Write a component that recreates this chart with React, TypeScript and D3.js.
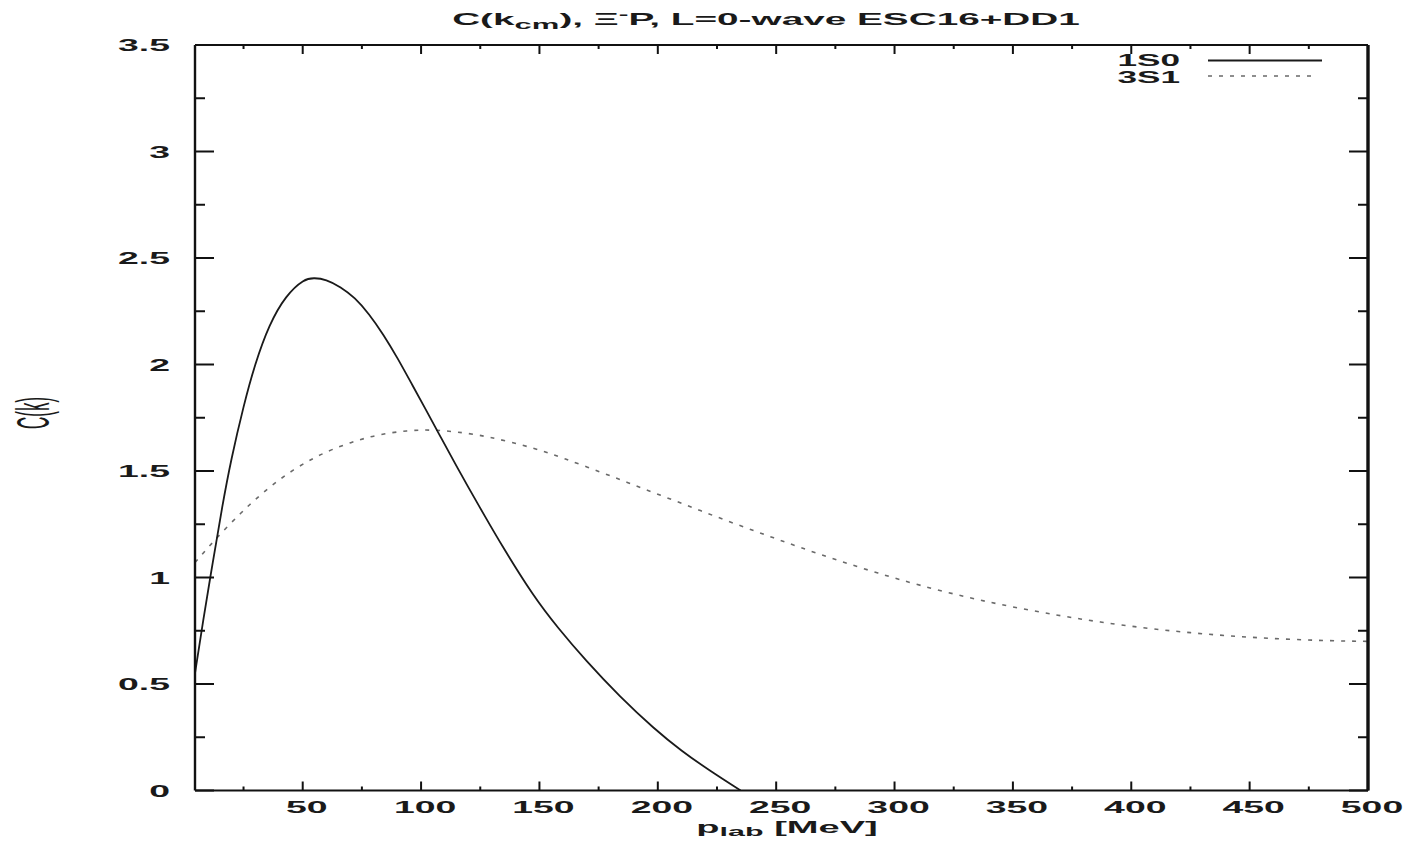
import React from "react";
import * as d3 from "d3";

// Correlation function C(k) versus p_lab for the two L=0 partial waves
const pLab1S0 = [4.5, 8, 12, 16, 20, 25, 30, 36, 43, 50, 55, 60, 66, 72, 78, 84, 90, 96, 102, 108, 114, 120, 127, 135, 147, 158, 170, 184, 198, 210, 222, 235];
const c1S0 = [0.55, 0.8, 1.07, 1.33, 1.56, 1.8, 2.0, 2.18, 2.315, 2.39, 2.405, 2.395, 2.362, 2.31, 2.235, 2.14, 2.03, 1.91, 1.788, 1.665, 1.543, 1.423, 1.287, 1.136, 0.926, 0.763, 0.607, 0.443, 0.297, 0.188, 0.094, 0.0];

const pLab3S1 = [4.5, 10, 16, 23.5, 30, 37.6, 46, 54.5, 63, 72.8, 83, 93.9, 104, 115, 129, 147, 161, 176, 190, 204, 218, 232, 246, 260, 276, 293, 311, 331, 350, 369, 387, 406, 425, 444, 463, 482, 500];
const c3S1 = [1.07, 1.14, 1.213, 1.298, 1.366, 1.437, 1.504, 1.559, 1.603, 1.642, 1.671, 1.688, 1.692, 1.683, 1.658, 1.608, 1.556, 1.494, 1.434, 1.374, 1.314, 1.255, 1.198, 1.142, 1.081, 1.021, 0.963, 0.907, 0.862, 0.823, 0.791, 0.763, 0.741, 0.724, 0.712, 0.704, 0.7];

const seriesNames = ["1S0", "3S1"];

const xMajorTicks = [50, 100, 150, 200, 250, 300, 350, 400, 450, 500];
const xMinorTicks = [25, 75, 125, 175, 225, 275, 325, 375, 425, 475];
const xTickLabels = ["50", "100", "150", "200", "250", "300", "350", "400", "450", "500"];
const yMajorTicks = [0, 0.5, 1, 1.5, 2, 2.5, 3, 3.5];
const yMinorTicks = [0.25, 0.75, 1.25, 1.75, 2.25, 2.75, 3.25];
const yTickLabels = ["0", "0.5", "1", "1.5", "2", "2.5", "3", "3.5"];

const W = 1409;
const H = 841;
const left = 195;
const right = 1368;
const top = 45;
const bottom = 790.5;

const FONT = "'Liberation Sans', Arial, Helvetica, sans-serif";
const FS = 17;
const SX = 2.2; // horizontal stretch of all lettering

export default function App() {
  const x = d3.scaleLinear().domain([4.5, 500]).range([left, right]);
  const y = d3.scaleLinear().domain([0, 3.5]).range([bottom, top]);

  const line = d3
    .line<[number, number]>()
    .x((d) => x(d[0]))
    .y((d) => y(d[1]))
    .curve(d3.curveNatural);

  const d1 = line(pLab1S0.map((p, i) => [p, c1S0[i]] as [number, number])) || "";
  const d3s = line(pLab3S1.map((p, i) => [p, c3S1[i]] as [number, number])) || "";

  const stretched = (tx: number, ty: number, sx = SX) => `translate(${tx},${ty}) scale(${sx},1)`;

  return (
    <svg
      width={W}
      height={H}
      viewBox={`0 0 ${W} ${H}`}
      style={{ position: "absolute", left: 0, top: 0, background: "#fff" }}
      fontFamily={FONT}
      fontSize={FS}
      fontWeight="bold"
    >
      <defs>
        <clipPath id="plotArea">
          <rect x={left} y={top} width={right - left} height={bottom - top} />
        </clipPath>
      </defs>
      <rect x={0} y={0} width={W} height={H} fill="#fff" />

      {/* title */}
      <text transform={stretched(766, 25, 2.28)} textAnchor="middle" fill="#1a1a1a">
        C(k
        <tspan fontSize={FS * 0.8} dy={4}>cm</tspan>
        <tspan dy={-4}>), Ξ</tspan>
        <tspan fontSize={FS * 0.75} dy={-6}>-</tspan>
        <tspan dy={6}>P, L=0-wave ESC16+DD1</tspan>
      </text>

      {/* curves */}
      <g clipPath="url(#plotArea)">
        <path d={d3s} fill="none" stroke="#6a6a6a" strokeWidth={1.6} strokeDasharray="4 7" />
        <path d={d1} fill="none" stroke="#1a1a1a" strokeWidth={1.8} />
      </g>

      {/* ticks */}
      <g stroke="#111" strokeWidth={2}>
        {yMajorTicks.map((v) => (
          <g key={`ym${v}`}>
            <line x1={left} x2={left + 19} y1={y(v)} y2={y(v)} />
            <line x1={right} x2={right - 19} y1={y(v)} y2={y(v)} />
          </g>
        ))}
        {yMinorTicks.map((v) => (
          <g key={`yn${v}`}>
            <line x1={left} x2={left + 10} y1={y(v)} y2={y(v)} />
            <line x1={right} x2={right - 10} y1={y(v)} y2={y(v)} />
          </g>
        ))}
        {xMajorTicks.map((v) => (
          <g key={`xm${v}`}>
            <line x1={x(v)} x2={x(v)} y1={bottom} y2={bottom - 9} />
            <line x1={x(v)} x2={x(v)} y1={top} y2={top + 9} />
          </g>
        ))}
        {xMinorTicks.map((v) => (
          <g key={`xn${v}`}>
            <line x1={x(v)} x2={x(v)} y1={bottom} y2={bottom - 4} />
            <line x1={x(v)} x2={x(v)} y1={top} y2={top + 4} />
          </g>
        ))}
      </g>

      {/* frame */}
      <g fill="none" stroke="#111">
        <line x1={left} x2={left} y1={top} y2={bottom} strokeWidth={2.4} />
        <line x1={left} x2={right} y1={bottom} y2={bottom} strokeWidth={2.2} />
        <line x1={left} x2={right} y1={top} y2={top} strokeWidth={2.2} />
        <line x1={right} x2={right} y1={top} y2={bottom} strokeWidth={3.4} />
      </g>

      {/* tick labels */}
      <g fill="#1a1a1a">
        {yMajorTicks.map((v, i) => (
          <text key={`yl${v}`} transform={stretched(170, y(v) + 6)} textAnchor="end">
            {yTickLabels[i]}
          </text>
        ))}
        {xMajorTicks.map((v, i) => (
          <text key={`xl${v}`} transform={stretched(x(v) + 4, 813)} textAnchor="middle">
            {xTickLabels[i]}
          </text>
        ))}
      </g>

      {/* axis titles */}
      <text transform={stretched(787, 833, 2.24)} textAnchor="middle" fill="#1a1a1a">
        p<tspan fontSize={FS * 0.8} dy={3}>lab</tspan>
        <tspan dy={-3}> [MeV]</tspan>
      </text>
      <text
        transform={`translate(33,413) scale(2.7,1) rotate(-90)`}
        textAnchor="middle"
        dominantBaseline="central"
        fill="#1a1a1a"
        fontWeight="normal"
      >
        C(k)
      </text>

      {/* legend */}
      <g fontSize={16}>
        <text transform={stretched(1180, 66)} textAnchor="end" fill="#1a1a1a">
          {seriesNames[0]}
        </text>
        <line x1={1208} x2={1322} y1={60.5} y2={60.5} stroke="#1a1a1a" strokeWidth={1.8} />
        <text transform={stretched(1180, 83)} textAnchor="end" fill="#1a1a1a">
          {seriesNames[1]}
        </text>
        <line x1={1208} x2={1313} y1={76} y2={76} stroke="#6a6a6a" strokeWidth={1.6} strokeDasharray="4 7" />
      </g>
    </svg>
  );
}
